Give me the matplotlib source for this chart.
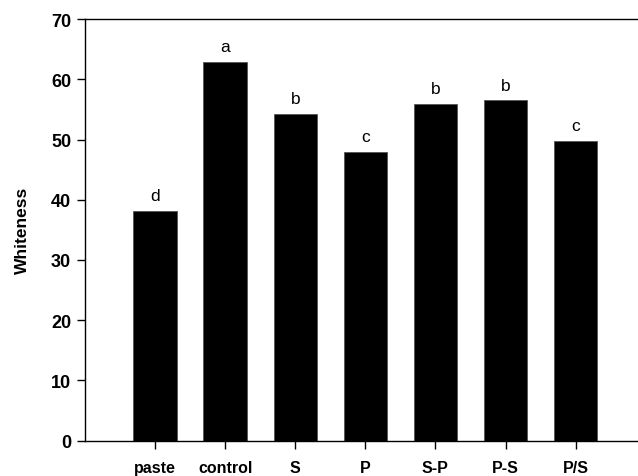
import matplotlib.pyplot as plt

plt.rcParams['font.family'] = ['Liberation Sans', 'DejaVu Sans']

groups = ['paste', 'control', 'S', 'P', 'S-P', 'P-S', 'P/S']
whiteness = [38.1, 62.9, 54.2, 47.9, 55.9, 56.5, 49.7]
letters = ['d', 'a', 'b', 'c', 'b', 'b', 'c']

fig = plt.figure(figsize=(6.38, 4.77), dpi=100)
ax = fig.add_axes([0.1332, 0.074, 0.8668, 0.884])

x = list(range(len(groups)))
ax.bar(x, whiteness, width=0.62, color='black', edgecolor='#555555', linewidth=0.6)
for xi, v, t in zip(x, whiteness, letters):
    ax.text(xi, v + 1.3, t, ha='center', va='bottom', fontsize=12.5)

ax.set_xlim(-1, 6.89)
ax.set_ylim(0, 70)
ax.set_yticks(range(0, 71, 10))
ax.set_xticks(x)
ax.set_xticklabels(groups, fontweight='bold', fontsize=11.5)
for lab in ax.get_yticklabels():
    lab.set_fontweight('bold')
    lab.set_fontsize(13)
ax.tick_params(direction='out', length=6, width=1, pad=4)
ax.tick_params(axis='x', pad=8)
ax.spines['right'].set_visible(False)
for s in ['left', 'bottom', 'top']:
    ax.spines[s].set_linewidth(1)
ax.set_ylabel('Whiteness', fontweight='bold', fontsize=12.5, labelpad=15)

plt.savefig('out.png', dpi=100)
